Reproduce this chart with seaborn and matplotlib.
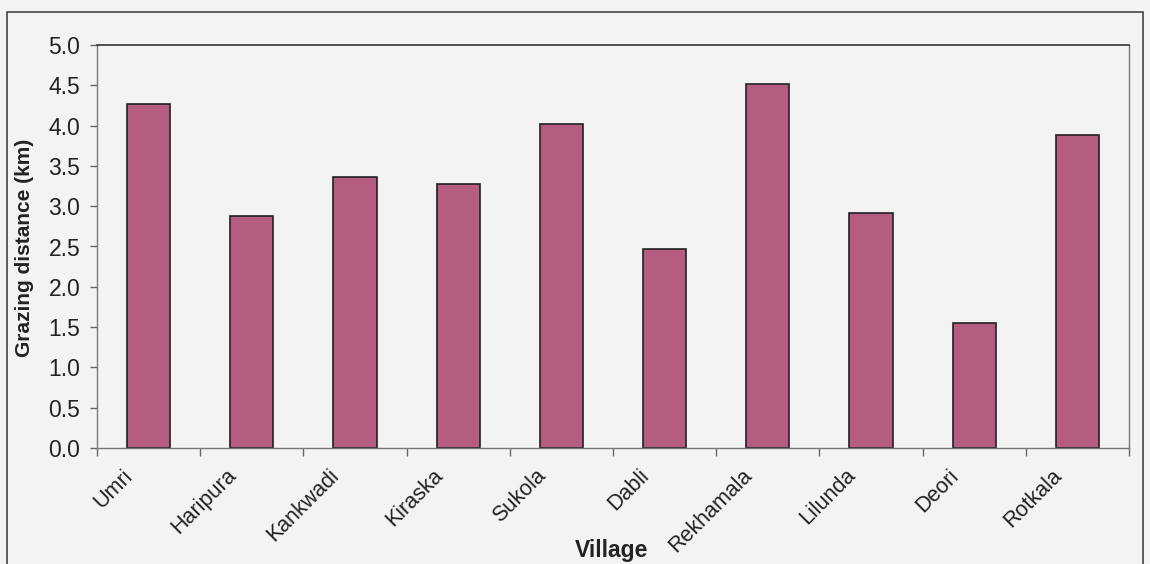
import numpy as np
import pandas as pd
import matplotlib
matplotlib.use('Agg')
import matplotlib.pyplot as plt
import matplotlib.patches as mpatches
import matplotlib.transforms as mtransforms
import seaborn as sns

# ─── Data ─────────────────────────────────────────────────────────────────────
villages = ['Umri', 'Haripura', 'Kankwadi', 'Kiraska', 'Sukola',
            'Dabli', 'Rekhamala', 'Lilunda', 'Deori', 'Rotkala']
distance_km = [4.27, 2.88, 3.36, 3.27, 4.02, 2.47, 4.52, 2.92, 1.55, 3.88]
y_ticks = [0.0, 0.5, 1.0, 1.5, 2.0, 2.5, 3.0, 3.5, 4.0, 4.5, 5.0]

df = pd.DataFrame({'village': villages, 'distance': distance_km})

# ─── Style ────────────────────────────────────────────────────────────────────
sns.set_style('white')
plt.rcParams['font.family'] = ['Liberation Sans', 'DejaVu Sans']
bg = '#f4f3f4'
bar_color = '#b55c81'

fig = plt.figure(figsize=(11.5, 5.64), dpi=100, facecolor=bg)
ax = fig.add_axes([97 / 1150, 1 - 448 / 564, (1129 - 97) / 1150, (448 - 45) / 564])
ax.set_facecolor(bg)

sns.barplot(data=df, x='village', y='distance', color=bar_color,
            edgecolor='#222222', linewidth=1.2, width=0.42, saturation=1, ax=ax)

ax.set_ylim(0, 5.0)
ax.set_xlim(-0.5, len(villages) - 0.5)
ax.set_yticks(y_ticks)
ax.set_yticklabels([f'{v:.1f}' for v in y_ticks], fontsize=16.5, color='#222222')
ax.tick_params(axis='y', left=True, direction='out', length=5, width=1,
               color='#666666', pad=7)

# category labels, rotated like the original
ax.set_xticks(np.arange(len(villages)))
ax.set_xticklabels(villages, rotation=45, ha='right', rotation_mode='anchor',
                   fontsize=15.5, color='#222222')
ax.tick_params(axis='x', which='major', bottom=True, length=0, pad=8)
shift = mtransforms.ScaledTranslation(-26 / 100, -6 / 100, fig.dpi_scale_trans)
for lbl in ax.get_xticklabels():
    lbl.set_transform(lbl.get_transform() + shift)

# category boundary ticks
ax.set_xticks(np.arange(len(villages) + 1) - 0.5, minor=True)
ax.tick_params(axis='x', which='minor', bottom=True, direction='out', length=6,
               width=1, color='#666666')

for side in ['left', 'right', 'bottom']:
    ax.spines[side].set_color('#777777')
    ax.spines[side].set_linewidth(1)
ax.spines['top'].set_color('#333333')
ax.spines['top'].set_linewidth(1.2)

ax.set_xlabel('')
ax.set_ylabel('')
fig.text(25 / 1150, 1 - 248 / 564, 'Grazing distance (km)', rotation=90,
         ha='center', va='center', fontsize=15, fontweight='bold', color='#222222')
fig.text(612 / 1150, 1 - 550 / 564, 'Village', ha='center', va='center',
         fontsize=16.5, fontweight='bold', color='#222222')

# outer chart frame
fig.patches.append(mpatches.Rectangle((7 / 1150, -0.02), (1143 - 7) / 1150, 1 - 12 / 564 + 0.02,
                                      transform=fig.transFigure, fill=False,
                                      edgecolor='#444444', linewidth=1.2))

fig.savefig('out.png', dpi=100, facecolor=bg)
